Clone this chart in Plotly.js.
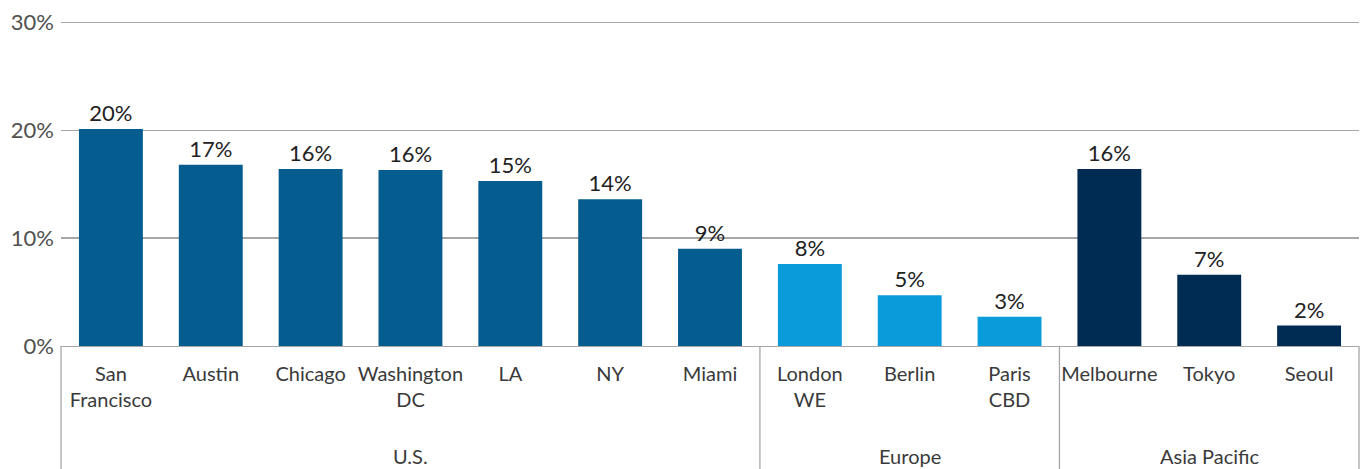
<!DOCTYPE html>
<html>
<head>
<meta charset="utf-8">
<script src="https://cdn.plot.ly/plotly-3.0.1.min.js"></script>
<style>html,body{margin:0;padding:0;background:#fff;}#chart{width:1363px;height:469px;}</style>
</head>
<body>
<div id="chart"></div>
<script>
// ---- data ----
const cities = ["San<br>Francisco","Austin","Chicago","Washington<br>DC","LA","NY","Miami","London<br>WE","Berlin","Paris<br>CBD","Melbourne","Tokyo","Seoul"];
const values = [20.1, 16.8, 16.4, 16.3, 15.3, 13.6, 9.0, 7.6, 4.7, 2.7, 16.4, 6.6, 1.9];
const regions = ["U.S.", "Europe", "Asia Pacific"];
const regionSizes = [7, 3, 3];
const regionColors = ["#045C8F", "#0A9BDA", "#002B52"];
const yTickVals = [0, 10, 20, 30];
const yTickText = ["0%", "10%", "20%", "30%"];

// ---- derived ----
const colors = [];
regionSizes.forEach((n, r) => { for (let i = 0; i < n; i++) colors.push(regionColors[r]); });
const total = cities.length;
const FONT = "Lato, 'Open Sans', sans-serif";

const shapes = [];
const annotations = [];
let start = 0;
shapes.push({type: "line", xref: "paper", yref: "paper", x0: 0, x1: 0, y0: 0, y1: -0.45, line: {color: "#a6a6a6", width: 1.3}});
regionSizes.forEach((n, r) => {
  const end = start + n;
  shapes.push({type: "line", xref: "paper", yref: "paper", x0: end / total, x1: end / total, y0: 0, y1: -0.45, line: {color: "#a6a6a6", width: 1.3}});
  annotations.push({xref: "paper", yref: "paper", x: (start + end) / 2 / total, y: -0.335, yanchor: "middle", xanchor: "center",
    text: regions[r], showarrow: false, font: {family: FONT, size: 20, color: "#3a3a3a"}});
  start = end;
});

const trace = {
  type: "bar",
  x: cities,
  y: values,
  marker: {color: colors},
  width: 0.64,
  texttemplate: "%{y:.0f}%",
  textposition: "outside",
  cliponaxis: false,
  textfont: {family: FONT, size: 22, color: "#222"},
  hoverinfo: "skip"
};

const layout = {
  width: 1363, height: 469,
  margin: {l: 61, r: 4, t: 19, b: 123},
  paper_bgcolor: "#fff", plot_bgcolor: "#fff",
  showlegend: false,
  bargap: 0.36,
  font: {family: FONT, color: "#3a3a3a"},
  xaxis: {
    type: "category",
    range: [-0.5, total - 0.5],
    showgrid: false, zeroline: false,
    showline: true, linecolor: "#a6a6a6", linewidth: 1.3,
    ticks: "", ticklabelstandoff: 10,
    tickfont: {family: FONT, size: 20, color: "#3a3a3a"},
    fixedrange: true
  },
  yaxis: {
    range: [0, 30.3],
    tickvals: yTickVals, ticktext: yTickText,
    showgrid: true, gridcolor: "#a6a6a6", gridwidth: 1.3,
    zeroline: false, showline: false, ticks: "",
    ticklabelstandoff: 6,
    tickfont: {family: FONT, size: 22, color: "#505050"},
    fixedrange: true
  },
  shapes: shapes,
  annotations: annotations
};

Plotly.newPlot("chart", [trace], layout, {displayModeBar: false, staticPlot: true});
</script>
</body>
</html>
